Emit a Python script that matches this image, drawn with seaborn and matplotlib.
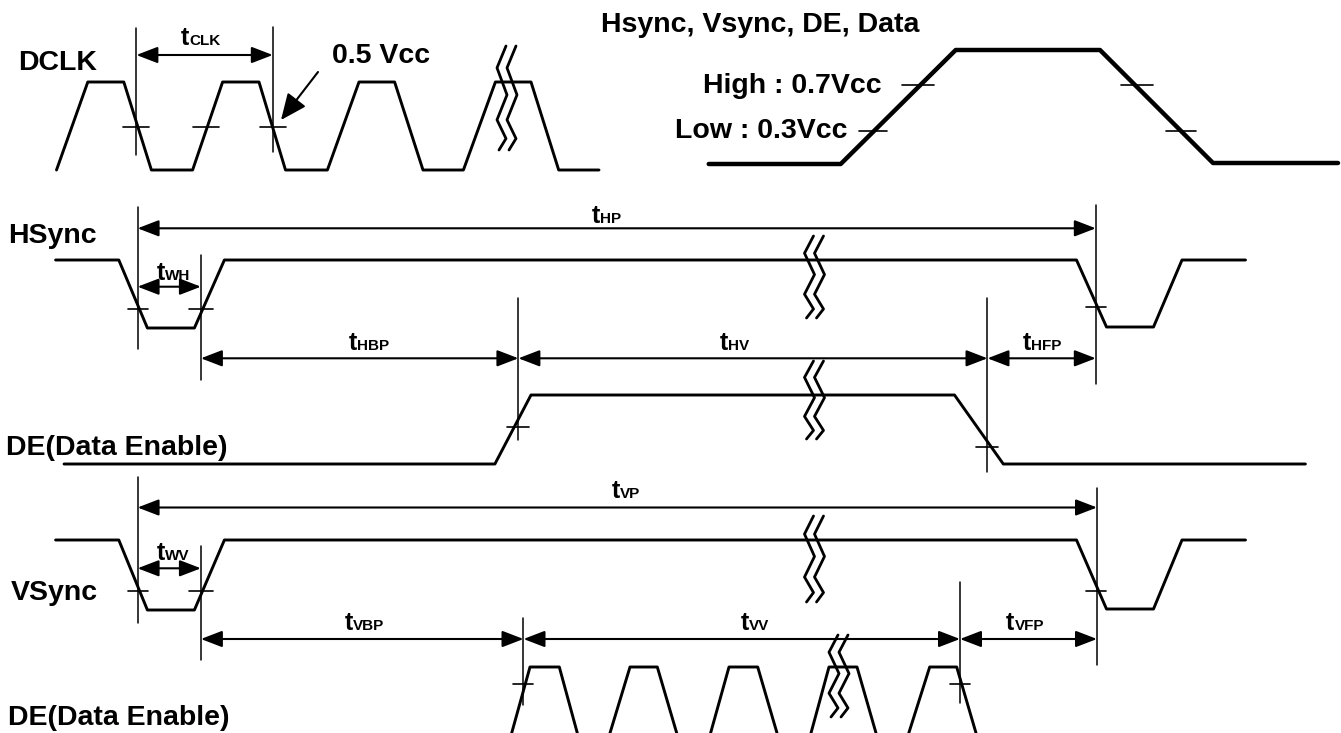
import numpy as np
import pandas as pd
import matplotlib
matplotlib.use('Agg')
import matplotlib.pyplot as plt
import seaborn as sns

# everything is in picture pixels: x to the right, y downwards

# DCLK clock
dclk_x = [56.5, 87.8, 123.8, 151.4, 192.6, 222.6, 259, 285.5, 327.4, 359, 394.6, 423, 463.4, 495.4, 531, 558.7, 599]
dclk_y = [170, 82, 82, 170, 170, 82, 82, 170, 170, 82, 82, 170, 170, 82, 82, 170, 170]

# level definition (top right)
lvl_x = [708.7, 840.7, 955.7, 1100, 1213, 1338]
lvl_y = [164, 164, 50, 50, 163, 163]

# HSync / VSync share the same edges
sync_x = [55.6, 118.8, 147.4, 194.4, 224.4, 1076.5, 1106.5, 1153.5, 1182, 1245.5]
hsync_y = [260, 260, 328, 328, 260, 260, 327, 327, 260, 260]
vsync_y = [540, 540, 610, 610, 540, 540, 609, 609, 540, 540]

# DE for one line
de1_x = [64, 494.9, 531, 954.5, 1003.3, 1305.4]
de1_y = [464, 464, 395, 395, 464, 464]

# DE pulses for one frame (bottom, cut by the picture edge)
de2_rise = [511.7, 610, 710.6, 811, 908.8]
de2_top = [530, 630, 729, 829, 929.7]
de2_top_end = [559.3, 657.3, 757.7, 857, 956.7]
de2_fall = [577.3, 676.7, 777, 876, 976]
de2_hi, de2_lo = 667, 733

# vertical reference lines: x, top, bottom
guides = [(136.4, 28, 155), (272.8, 27, 152),
          (137.6, 207, 349), (200.9, 255, 380), (518.4, 298, 440), (987.5, 298, 472), (1095.8, 205, 384),
          (137.6, 477, 623), (200.9, 546, 660), (523.5, 618, 705), (960, 582, 703), (1097, 488, 665)]

# dimension arrows: x0, x1, y, label, split x of label, label baseline
dims = [(136.4, 272.8, 55, 'CLK', 189.5, 45),
        (137.6, 1095.8, 228.3, 'HP', 600, 223),
        (137.6, 200.9, 286.7, 'WH', 165, 280),
        (200.9, 518.4, 358.3, 'HBP', 357, 350),
        (518.4, 987.5, 358.3, 'HV', 728, 350),
        (987.5, 1095.8, 358.3, 'HFP', 1031.5, 350),
        (137.6, 1097, 507.5, 'VP', 620, 498),
        (137.6, 200.9, 568.3, 'WV', 165, 560),
        (200.9, 523.5, 639, 'VBP', 353, 630),
        (523.5, 960, 639, 'VV', 749, 630),
        (960, 1097, 639, 'VFP', 1014.5, 630)]

# crossing ticks: x, y, half width
ticks = [(136.4, 127, 13), (205.6, 127, 13), (272.8, 127, 13),
         (137.6, 309.3, 10), (200.9, 309.3, 12), (1096, 306.7, 10),
         (518.4, 426.7, 11), (987, 447.3, 11),
         (137.6, 590.7, 10), (200.9, 590.7, 12), (1096, 590.7, 10),
         (523.5, 684, 10), (960, 684, 10),
         (918, 85, 16), (873, 131, 14), (1137, 85, 16), (1181, 131, 15)]

# break marks: centre x, top, bottom
breaks = [(507, 46, 150), (814.5, 236, 318), (814.5, 361, 439), (814.5, 516, 602), (839, 635, 717)]

# plain labels: text, x, baseline, align
labels = [('DCLK', 18, 70, 'left'), ('0.5 Vcc', 332, 63, 'left'),
          ('Hsync, Vsync, DE, Data', 601, 32, 'left'),
          ('High : 0.7Vcc', 882, 93, 'right'), ('Low : 0.3Vcc', 848, 138.5, 'right'),
          ('HSync', 8.5, 243, 'left'), ('DE(Data Enable)', 6, 455, 'left'),
          ('VSync', 10.5, 600, 'left'), ('DE(Data Enable)', 8, 725, 'left')]

sns.set_theme(style='white')
plt.rcParams['font.family'] = ['Liberation Sans', 'DejaVu Sans']
plt.rcParams['text.color'] = 'black'

fig = plt.figure(figsize=(13.41, 7.33), dpi=100)
ax = fig.add_axes([0, 0, 1, 1])


def wave(x, y, lw=2.1):
    df = pd.DataFrame({'x': x, 'y': y})
    sns.lineplot(data=df, x='x', y='y', sort=False, estimator=None,
                 color='black', lw=lw, ax=ax, legend=False)


wave(dclk_x, dclk_y)
wave(lvl_x, lvl_y, lw=3.2)
wave(sync_x, hsync_y)
wave(sync_x, vsync_y)
wave(de1_x, de1_y)
for r, t, te, f in zip(de2_rise, de2_top, de2_top_end, de2_fall):
    wave([r, t, te, f], [de2_lo, de2_hi, de2_hi, de2_lo])

for x, y0, y1 in guides:
    ax.plot([x, x], [y0, y1], color='black', lw=1.1)

for x0, x1, y, sub, xs, yb in dims:
    ax.annotate('', xy=(x1, y), xytext=(x0, y),
                arrowprops=dict(arrowstyle='<|-|>,head_length=0.65,head_width=0.25',
                                mutation_scale=20, lw=1.5, color='black',
                                shrinkA=0, shrinkB=0))
    ax.text(xs, yb, 't', fontsize=18, fontweight='bold', ha='right', va='baseline', color='black')
    ax.text(xs, yb, sub, fontsize=11, fontweight='bold', ha='left', va='baseline', color='black')

for x, y, hw in ticks:
    ax.plot([x - hw, x + hw], [y, y], color='black', lw=1.2)

zig_dx = [4, -5, 5, -5, 4, -3]
zig_f = [0, 0.21, 0.47, 0.71, 0.89, 1.0]
for cx, top, bot in breaks:
    for off in (-5, 5):
        xs = [cx + off + d for d in zig_dx]
        ys = [top + f * (bot - top) for f in zig_f]
        ax.plot(xs, ys, color='black', lw=2.0)

# arrow pointing at the 0.5 Vcc crossing
ax.annotate('', xy=(281, 120), xytext=(318, 72),
            arrowprops=dict(arrowstyle='-|>,head_length=0.8,head_width=0.35',
                            mutation_scale=20, lw=1.5, color='black',
                            shrinkA=0, shrinkB=0))

for s, x, y, ha in labels:
    ax.text(x, y, s, fontsize=20.5, fontweight='bold', ha=ha, va='baseline', color='black')

ax.set_xlim(0, 1341)
ax.set_ylim(733, 0)
ax.axis('off')

fig.savefig('out.png', dpi=100, facecolor='white')
